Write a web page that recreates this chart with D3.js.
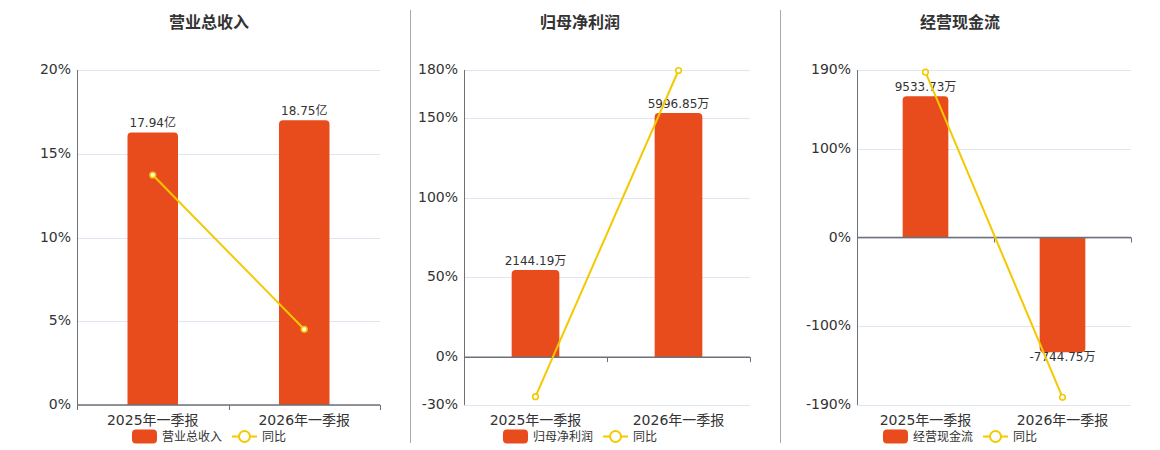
<!doctype html>
<html>
  <head>
    <meta charset="utf-8">
    <title>季报对比</title>
    <script src="https://cdnjs.cloudflare.com/ajax/libs/d3/7.8.5/d3.min.js"></script>
    <style>
      body { margin: 0; background: #fff; }
      svg text { font-family: "DejaVu Sans", "Noto Sans CJK SC", sans-serif; fill: #333; }
    </style>
  </head>
  <body>
    <div id="chart"></div>
    <script>
      // data
      const periods = ["2025年一季报", "2026年一季报"];

      const titles = ["营业总收入", "归母净利润", "经营现金流"];
      const units = ["亿", "万", "万"];

      const revenue = [17.94, 18.75];
      const revenueYoy = [13.73, 4.52];
      const revenueTicks = [0, 5, 10, 15, 20];
      const revenueBarDomain = [0, 22.05];

      const profit = [2144.19, 5996.85];
      const profitYoy = [-24.8, 179.68];
      const profitTicks = [-30, 0, 50, 100, 150, 180];
      const profitBarDomain = [-1176, 7056];

      const cash = [9533.73, -7744.75];
      const cashYoy = [187.5, -181.24];
      const cashTicks = [-190, -100, 0, 100, 190];
      const cashBarDomain = [-11300, 11300];

      const barColor = "#e84c1c";
      const lineColor = "#f4c900";

      const width = 1160, height = 450;
      const plotTop = 70, plotBottom = 405;

      const svg = d3.select("#chart").append("svg")
        .attr("width", width)
        .attr("height", height);

      // panel layout (grid left/right, centre of title + legend)
      const panels = [
        { left: 77, right: 380, cx: 209, bars: revenue, yoy: revenueYoy, ticks: revenueTicks, barDomain: revenueBarDomain },
        { left: 464, right: 750, cx: 580, bars: profit, yoy: profitYoy, ticks: profitTicks, barDomain: profitBarDomain },
        { left: 857, right: 1131, cx: 960, bars: cash, yoy: cashYoy, ticks: cashTicks, barDomain: cashBarDomain }
      ];

      // dividers
      [410.5, 780.5].forEach(x => {
        svg.append("line")
          .attr("x1", x).attr("x2", x)
          .attr("y1", 10).attr("y2", 443)
          .attr("stroke", "#aaa");
      });

      // rounded-top (or bottom) bar path
      function barPath(x, w, y0, y1, r) {
        if (y1 <= y0) {
          const h = y0 - y1; r = Math.min(r, h);
          return `M${x},${y0}V${y1 + r}Q${x},${y1} ${x + r},${y1}H${x + w - r}Q${x + w},${y1} ${x + w},${y1 + r}V${y0}Z`;
        } else {
          const h = y1 - y0; r = Math.min(r, h);
          return `M${x},${y0}V${y1 - r}Q${x},${y1} ${x + r},${y1}H${x + w - r}Q${x + w},${y1} ${x + w},${y1 - r}V${y0}Z`;
        }
      }

      panels.forEach((p, i) => {
        const g = svg.append("g");

        const x = d3.scaleBand().domain(periods).range([p.left, p.right]);
        const y = d3.scaleLinear()
          .domain([d3.min(p.ticks), d3.max(p.ticks)])
          .range([plotBottom, plotTop]);
        const yBar = d3.scaleLinear().domain(p.barDomain).range([plotBottom, plotTop]);
        const zeroY = y(0);

        // title
        g.append("text")
          .attr("x", p.cx).attr("y", 28)
          .attr("text-anchor", "middle")
          .style("font-size", "16px")
          .style("font-weight", "bold")
          .text(titles[i]);

        // grid lines
        g.selectAll(".grid")
          .data(p.ticks)
          .join("line")
          .attr("x1", p.left).attr("x2", p.right)
          .attr("y1", d => Math.round(y(d)) + 0.5)
          .attr("y2", d => Math.round(y(d)) + 0.5)
          .attr("stroke", "#e0e6f1");

        // y axis labels
        g.selectAll(".ylab")
          .data(p.ticks)
          .join("text")
          .attr("x", p.left - 6)
          .attr("y", d => y(d))
          .attr("text-anchor", "end")
          .attr("dominant-baseline", "middle")
          .style("font-size", "14px")
          .text(d => d + "%");

        // y axis line
        g.append("line")
          .attr("x1", p.left + 0.5).attr("x2", p.left + 0.5)
          .attr("y1", plotTop).attr("y2", plotBottom)
          .attr("stroke", "#6e7079");

        // bars
        const bw = x.bandwidth() / 3;
        g.selectAll(".bar")
          .data(p.bars)
          .join("path")
          .attr("d", (d, j) => {
            const bx = x(periods[j]) + (x.bandwidth() - bw) / 2;
            return barPath(bx, bw, yBar(0), yBar(d), 4);
          })
          .attr("fill", barColor);

        // bar labels
        g.selectAll(".blab")
          .data(p.bars)
          .join("text")
          .attr("x", (d, j) => x(periods[j]) + x.bandwidth() / 2)
          .attr("y", d => d >= 0 ? yBar(d) - 5 : yBar(d) + 9)
          .attr("text-anchor", "middle")
          .style("font-size", "12px")
          .text(d => d.toFixed(2) + units[i]);

        // x axis at zero
        g.append("line")
          .attr("x1", p.left).attr("x2", p.right)
          .attr("y1", zeroY).attr("y2", zeroY)
          .attr("stroke", "#6e7079")
          .attr("stroke-width", 1.5);

        const bounds = [p.left, ...periods.map(c => x(c) + x.bandwidth())];
        g.selectAll(".xtick")
          .data(bounds)
          .join("line")
          .attr("x1", d => Math.round(d) + 0.5).attr("x2", d => Math.round(d) + 0.5)
          .attr("y1", zeroY).attr("y2", zeroY + 5)
          .attr("stroke", "#6e7079");

        // category labels
        g.selectAll(".xlab")
          .data(periods)
          .join("text")
          .attr("x", d => x(d) + x.bandwidth() / 2)
          .attr("y", 421)
          .attr("text-anchor", "middle")
          .attr("dominant-baseline", "middle")
          .style("font-size", "14px")
          .text(d => d);

        // yoy line
        const line = d3.line()
          .x((d, j) => x(periods[j]) + x.bandwidth() / 2)
          .y(d => y(d));

        g.append("path")
          .datum(p.yoy)
          .attr("d", line)
          .attr("fill", "none")
          .attr("stroke", lineColor)
          .attr("stroke-width", 2);

        g.selectAll(".pt")
          .data(p.yoy)
          .join("circle")
          .attr("cx", (d, j) => x(periods[j]) + x.bandwidth() / 2)
          .attr("cy", d => y(d))
          .attr("r", 2.8)
          .attr("fill", "#fff")
          .attr("stroke", lineColor)
          .attr("stroke-width", 1.6);

        // legend
        const lg = g.append("g");
        lg.append("rect")
          .attr("x", 0).attr("y", 429.5)
          .attr("width", 25).attr("height", 14)
          .attr("rx", 4)
          .attr("fill", barColor);
        const t1 = lg.append("text")
          .attr("x", 30).attr("y", 437)
          .attr("dominant-baseline", "middle")
          .style("font-size", "12px")
          .text(titles[i]);
        const w1 = t1.node().getComputedTextLength();
        const lx = 30 + w1 + 10;
        lg.append("line")
          .attr("x1", lx).attr("x2", lx + 25)
          .attr("y1", 436.5).attr("y2", 436.5)
          .attr("stroke", lineColor)
          .attr("stroke-width", 2);
        lg.append("circle")
          .attr("cx", lx + 12.5).attr("cy", 436.5)
          .attr("r", 5.5)
          .attr("fill", "#fff")
          .attr("stroke", lineColor)
          .attr("stroke-width", 2);
        const t2 = lg.append("text")
          .attr("x", lx + 30).attr("y", 437)
          .attr("dominant-baseline", "middle")
          .style("font-size", "12px")
          .text("同比");
        const total = lx + 30 + t2.node().getComputedTextLength();
        lg.attr("transform", `translate(${p.cx - total / 2},0)`);
      });
    </script>
  </body>
</html>
